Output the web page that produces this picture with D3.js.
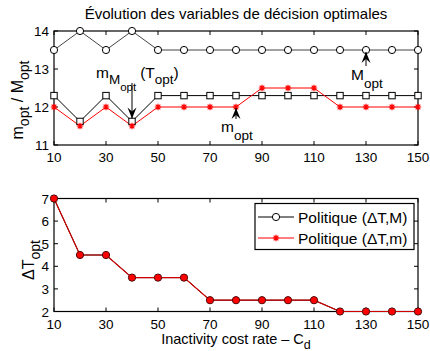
<!DOCTYPE html>
<html><head><meta charset="utf-8">
<script src="https://cdn.jsdelivr.net/npm/d3@7"></script>
<style>
body{margin:0;background:#fff;}
text{font-family:"Liberation Sans",Arial,sans-serif;fill:#000;}
</style></head><body>
<svg id="c" width="430" height="351"></svg>
<script>
const costRates = [10,20,30,40,50,60,70,80,90,100,110,120,130,140,150];
const Mopt      = [13.5,14,13.5,14,13.5,13.5,13.5,13.5,13.5,13.5,13.5,13.5,13.5,13.5,13.5];
const mMoptT    = [12.3,11.62,12.3,11.62,12.3,12.3,12.3,12.3,12.3,12.3,12.3,12.3,12.3,12.3,12.3];
const mopt      = [12,11.5,12,11.5,12,12,12,12,12.5,12.5,12.5,12,12,12,12];
const dT_M      = [7,4.5,4.5,3.5,3.5,3.5,2.5,2.5,2.5,2.5,2.5,2,2,2,2];
const dT_m      = [7,4.5,4.5,3.5,3.5,3.5,2.5,2.5,2.5,2.5,2.5,2,2,2,2];
const xTicks = [10,30,50,70,90,110,130,150];
const yTicksTop = [11,12,13,14];
const yTicksBot = [2,3,4,5,6,7];
const legendLabels = ["Politique (ΔT,M)","Politique (ΔT,m)"];

const svg = d3.select("#c");
const RED = "#ff0000";
const x = d3.scaleLinear().domain([10,150]).range([54,418]);
const yT = d3.scaleLinear().domain([11,14]).range([145,31]);
const yB = d3.scaleLinear().domain([2,7]).range([311.5,198.5]);

function frame(y, yt){
  const g = svg.append("g");
  const [y0,y1] = y.range();
  const tl = 4;
  xTicks.forEach(t=>{
    g.append("line").attr("x1",x(t)).attr("x2",x(t)).attr("y1",y0).attr("y2",y0-tl).attr("stroke","#000");
    g.append("line").attr("x1",x(t)).attr("x2",x(t)).attr("y1",y1).attr("y2",y1+tl).attr("stroke","#000");
    g.append("text").attr("x",x(t)).attr("y",y0+17).attr("text-anchor","middle").attr("font-size",13.5).text(t);
  });
  yt.forEach(t=>{
    g.append("line").attr("x1",54).attr("x2",54+tl).attr("y1",y(t)).attr("y2",y(t)).attr("stroke","#000");
    g.append("line").attr("x1",418).attr("x2",418-tl).attr("y1",y(t)).attr("y2",y(t)).attr("stroke","#000");
    g.append("text").attr("x",49).attr("y",y(t)+5).attr("text-anchor","end").attr("font-size",13.5).text(t);
  });
  g.append("rect").attr("x",54).attr("y",y1).attr("width",364).attr("height",y0-y1)
    .attr("fill","none").attr("stroke","#000").attr("stroke-width",1.2);
  return g;
}

function starPath(cx,cy,s){
  const r=s/2, d=r*0.72;
  return `M${cx-r},${cy}L${cx+r},${cy}M${cx},${cy-r}L${cx},${cy+r}M${cx-d},${cy-d}L${cx+d},${cy+d}M${cx-d},${cy+d}L${cx+d},${cy-d}`;
}

// ---------- top panel ----------
frame(yT, yTicksTop);
const plotT = svg.append("g");
const lineT = d3.line().x((d,i)=>x(costRates[i])).y(d=>yT(d));
plotT.append("path").attr("d",lineT(Mopt)).attr("fill","none").attr("stroke","#444").attr("stroke-width",1);
plotT.append("path").attr("d",lineT(mMoptT)).attr("fill","none").attr("stroke","#000").attr("stroke-width",1);
plotT.append("path").attr("d",lineT(mopt)).attr("fill","none").attr("stroke",RED).attr("stroke-width",1);
Mopt.forEach((v,i)=>plotT.append("circle").attr("cx",x(costRates[i])).attr("cy",yT(v)).attr("r",3.6)
  .attr("fill","#fff").attr("stroke","#000").attr("stroke-width",1));
mMoptT.forEach((v,i)=>plotT.append("rect").attr("x",x(costRates[i])-3.2).attr("y",yT(v)-3.2).attr("width",6.4).attr("height",6.4)
  .attr("fill","#fff").attr("stroke","#000").attr("stroke-width",1));
mopt.forEach((v,i)=>plotT.append("path").attr("d",starPath(x(costRates[i]),yT(v),6.5)).attr("stroke",RED).attr("stroke-width",1.2));

function arrow(x0,y0,x1,y1){
  plotT.append("line").attr("x1",x0).attr("y1",y0).attr("x2",x1).attr("y2",y1).attr("stroke","#000").attr("stroke-width",1);
  const dir = Math.sign(y1-y0);
  const L=11, W=4.5, back=7;
  plotT.append("path").attr("d",`M${x1},${y1}L${x1-W},${y1-dir*L}L${x1},${y1-dir*back}L${x1+W},${y1-dir*L}Z`).attr("fill","#000");
}
arrow(x(40), 83, x(40), yT(11.62)-3);
arrow(x(130), 66, x(130), yT(13.5)+2);
arrow(x(80), 119, x(80), yT(12)+1);

const a1 = svg.append("text").attr("x",96).attr("y",78).attr("font-size",15.5);
a1.append("tspan").text("m");
a1.append("tspan").attr("dy",6).attr("font-size",13.5).text("M");
a1.append("tspan").attr("dy",7).attr("font-size",11.5).text("opt");
a1.append("tspan").attr("dy",-13).attr("dx",4).text("(T");
a1.append("tspan").attr("dy",6).attr("font-size",13.5).text("opt");
a1.append("tspan").attr("dy",-6).text(")");

const a2 = svg.append("text").attr("x",351).attr("y",80).attr("font-size",15.5);
a2.append("tspan").text("M");
a2.append("tspan").attr("dy",8).attr("font-size",13.5).text("opt");

const a3 = svg.append("text").attr("x",221).attr("y",132).attr("font-size",15.5);
a3.append("tspan").text("m");
a3.append("tspan").attr("dy",8).attr("font-size",13.5).text("opt");

svg.append("text").attr("x",236).attr("y",19).attr("text-anchor","middle").attr("font-size",15)
  .text("Évolution des variables de décision optimales");

const ylT = svg.append("text").attr("transform","translate(23,100) rotate(-90)").attr("text-anchor","middle").attr("font-size",16);
ylT.append("tspan").text("m");
ylT.append("tspan").attr("dy",6).attr("font-size",14).text("opt");
ylT.append("tspan").attr("dy",-6).text(" / M");
ylT.append("tspan").attr("dy",6).attr("font-size",14).text("opt");

// ---------- bottom panel ----------
frame(yB, yTicksBot);
const plotB = svg.append("g");
const lineB = d3.line().x((d,i)=>x(costRates[i])).y(d=>yB(d));
plotB.append("path").attr("d",lineB(dT_M)).attr("fill","none").attr("stroke","#000").attr("stroke-width",1);
plotB.append("path").attr("d",lineB(dT_m)).attr("fill","none").attr("stroke","#d00000").attr("stroke-width",1.2);
dT_M.forEach((v,i)=>plotB.append("circle").attr("cx",x(costRates[i])).attr("cy",yB(v)).attr("r",3.6)
  .attr("fill","#f01010").attr("stroke","#300").attr("stroke-width",1));
dT_m.forEach((v,i)=>plotB.append("path").attr("d",starPath(x(costRates[i]),yB(v),6.5)).attr("stroke",RED).attr("stroke-width",1.2));

const ylB = svg.append("text").attr("transform","translate(34,260) rotate(-90)").attr("text-anchor","middle").attr("font-size",16);
ylB.append("tspan").text("ΔT");
ylB.append("tspan").attr("dy",6).attr("font-size",14).text("opt");

const xl = svg.append("text").attr("x",236).attr("y",344).attr("text-anchor","middle").attr("font-size",14.5);
xl.append("tspan").text("Inactivity cost rate – C");
xl.append("tspan").attr("dy",5).attr("font-size",12.5).text("d");

const lg = svg.append("g");
lg.append("rect").attr("x",255).attr("y",203.5).attr("width",159).attr("height",46).attr("fill","#fff").attr("stroke","#000").attr("stroke-width",1.2);
const rows = [217, 238];
lg.append("line").attr("x1",258).attr("x2",294).attr("y1",rows[0]).attr("y2",rows[0]).attr("stroke","#000");
lg.append("circle").attr("cx",276).attr("cy",rows[0]).attr("r",3.6).attr("fill","#fff").attr("stroke","#000");
lg.append("line").attr("x1",258).attr("x2",294).attr("y1",rows[1]).attr("y2",rows[1]).attr("stroke",RED);
lg.append("path").attr("d",starPath(276,rows[1],6.5)).attr("stroke",RED).attr("stroke-width",1.2);
legendLabels.forEach((t,i)=>lg.append("text").attr("x",298).attr("y",rows[i]+5.5).attr("font-size",15.5).text(t));
</script></body></html>
